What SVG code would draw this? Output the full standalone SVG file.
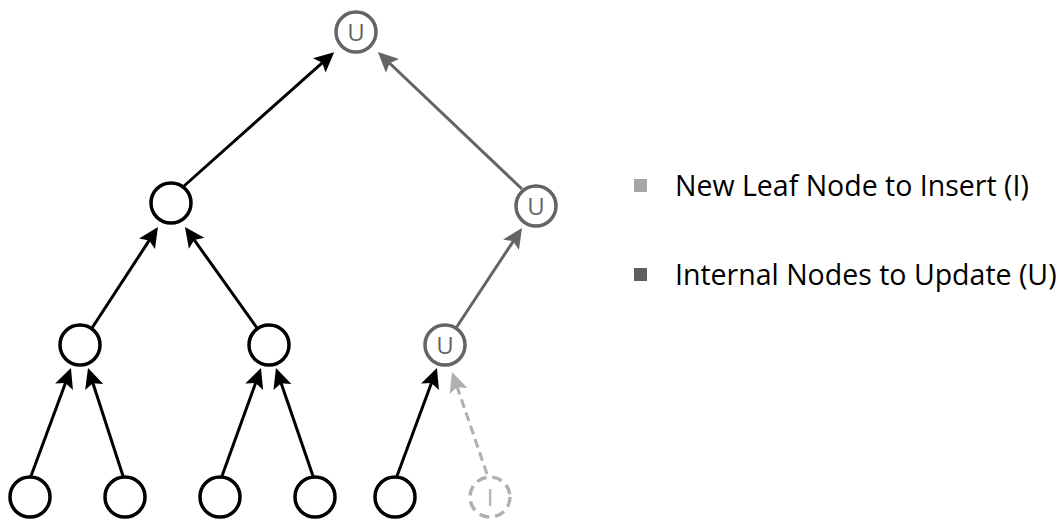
<svg xmlns="http://www.w3.org/2000/svg" width="1064" height="524" viewBox="0 0 1064 524">
<style>
.n{fill:#fff;stroke:#000;stroke-width:3.5}
.u{fill:#fff;stroke:#646464;stroke-width:3.5}
.i{fill:#fff;stroke:#b0b0b0;stroke-width:3.5;stroke-dasharray:10 6}
.lt{font-family:"Open Sans","Liberation Sans",sans-serif;font-size:24px;text-anchor:middle}
.lg{font-family:"Open Sans","Liberation Sans",sans-serif;font-size:28.5px;fill:#000}
.cb{stroke:#000;stroke-width:3;fill:none}
.cg{stroke:#646464;stroke-width:3;fill:none}
.cl{stroke:#b0b0b0;stroke-width:3;fill:none;stroke-dasharray:9 5}
</style>
<defs>
<marker id="ab" markerUnits="userSpaceOnUse" viewBox="-12 -12 24 24" refX="0" refY="0" markerWidth="24" markerHeight="24" orient="auto"><path d="M10,0 L-10,-9.5 L-6,0 L-10,9.5 Z" fill="#000"/></marker>
<marker id="ag" markerUnits="userSpaceOnUse" viewBox="-12 -12 24 24" refX="0" refY="0" markerWidth="24" markerHeight="24" orient="auto"><path d="M10,0 L-10,-9.5 L-6,0 L-10,9.5 Z" fill="#646464"/></marker>
<marker id="al" markerUnits="userSpaceOnUse" viewBox="-12 -12 24 24" refX="0" refY="0" markerWidth="24" markerHeight="24" orient="auto"><path d="M10,0 L-10,-9.5 L-6,0 L-10,9.5 Z" fill="#b0b0b0"/></marker>
</defs>
<g id="connectors">
<line class="cb" x1="184" y1="186" x2="326.7" y2="58.8" marker-end="url(#ab)"/>
<line class="cg" x1="522" y1="189" x2="385.2" y2="59" marker-end="url(#ag)"/>
<line class="cb" x1="92" y1="328" x2="152.5" y2="235.4" marker-end="url(#ab)"/>
<line class="cb" x1="257" y1="328" x2="190.8" y2="235.1" marker-end="url(#ab)"/>
<line class="cg" x1="456" y1="328" x2="516.5" y2="236.3" marker-end="url(#ag)"/>
<line class="cb" x1="31" y1="476" x2="67.5" y2="377.4" marker-end="url(#ab)"/>
<line class="cb" x1="123" y1="476" x2="91.1" y2="377.5" marker-end="url(#ab)"/>
<line class="cb" x1="222" y1="476" x2="257.6" y2="377.4" marker-end="url(#ab)"/>
<line class="cb" x1="313" y1="476" x2="279.2" y2="377.5" marker-end="url(#ab)"/>
<line class="cb" x1="397" y1="476" x2="433.5" y2="377.4" marker-end="url(#ab)"/>
<line class="cl" x1="487" y1="474" x2="455.3" y2="381.5" marker-end="url(#al)"/>
</g>
<g id="root"><circle class="u" cx="356" cy="32" r="20"/><text class="lt" x="356" y="41" fill="#646464">U</text></g>
<g id="l1a"><circle class="n" cx="171" cy="203" r="20"/></g>
<g id="l1b"><circle class="u" cx="536" cy="206" r="20"/><text class="lt" x="536" y="215" fill="#646464">U</text></g>
<g id="l2a"><circle class="n" cx="80" cy="345" r="20"/></g>
<g id="l2b"><circle class="n" cx="269" cy="345" r="20"/></g>
<g id="l2c"><circle class="u" cx="445" cy="345" r="20"/><text class="lt" x="445" y="354" fill="#646464">U</text></g>
<g id="leaf1"><circle class="n" cx="30" cy="497" r="20"/></g>
<g id="leaf2"><circle class="n" cx="125" cy="497" r="20"/></g>
<g id="leaf3"><circle class="n" cx="220" cy="497" r="20"/></g>
<g id="leaf4"><circle class="n" cx="315" cy="497" r="20"/></g>
<g id="leaf5"><circle class="n" cx="395" cy="497" r="20"/></g>
<g id="leafI"><circle class="i" cx="490" cy="497" r="20"/><text class="lt" x="490" y="506" fill="#b0b0b0">I</text></g>
<g id="legend">
<rect x="634" y="179" width="13" height="13" fill="#a6a6a6"/>
<text class="lg" x="675" y="196">New Leaf Node to Insert (I)</text>
<rect x="634" y="268" width="13" height="13" fill="#5f5f5f"/>
<text class="lg" x="675" y="285">Internal Nodes to Update (U)</text>
</g>
</svg>
